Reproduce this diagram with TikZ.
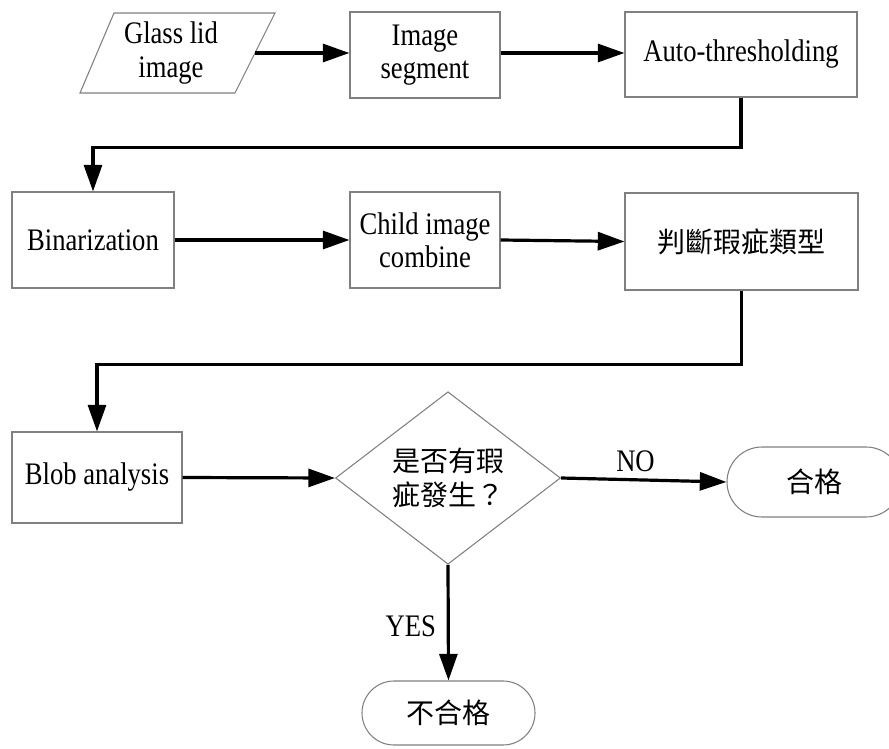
\documentclass[tikz,border=0pt]{standalone}
\usepackage{fontspec}
\setmainfont{Liberation Serif}[FakeStretch=0.85]
\newfontfamily\cjk{Noto Sans CJK TC}
\usetikzlibrary{arrows.meta,shapes.geometric,calc}
\begin{document}
\begin{tikzpicture}[x=0.75pt,y=-0.75pt,
  latin/.style={font=\fontsize{23.5}{25}\selectfont},
  box/.style={draw=black!50,line width=0.8pt,align=center,inner sep=0pt,latin},
  cjkbox/.style={box,font=\cjk\fontsize{21}{26}\selectfont},
  term/.style={cjkbox},
  flow/.style={line width=2.4pt,-{Triangle[length=20pt,width=13.5pt]}},
  lbl/.style={latin,inner sep=0pt}]
\useasboundingbox (0,0) rectangle (889,749);

% input parallelogram
\node[align=center,latin] (in) at (171,53) {Glass lid\\image};
\draw[draw=black!50,line width=0.8pt]
  ($(in)+(-57,-40)$) -- ($(in)+(104,-40)$) -- ($(in)+(64,40)$) -- ($(in)+(-91,40)$) -- cycle;
\coordinate (inR) at ($(in)+(84,0)$);

% processing boxes
\node[box,minimum width=112.5pt,minimum height=64.5pt] (seg) at (425,55) {Image\\segment};
\node[box,minimum width=174pt,minimum height=63.75pt] (auto) at (741,54.5) {Auto-thresholding};
\node[box,minimum width=121.5pt,minimum height=72pt] (bin) at (93,240) {Binarization};
\node[box,minimum width=112.5pt,minimum height=72pt] (child) at (425,240) {Child image\\combine};
\node[cjkbox,minimum width=174.75pt,minimum height=72.75pt] (type) at (741.5,241.5) {判斷瑕疵類型};
\node[box,minimum width=127.5pt,minimum height=68.25pt] (blob) at (97,477.5) {Blob analysis};

% decision
\node[draw=black!50,line width=0.8pt,diamond,inner sep=0pt,
  minimum width=168.75pt,minimum height=116.25pt,align=center,
  font=\cjk\fontsize{21}{26}\selectfont] (dec) at (448,478) {是否有瑕\\疵發生？};

% terminals (the right one runs past the page edge)
\node[term,minimum width=130.5pt,minimum height=52.5pt,rounded corners=26.25pt] (ok) at (814,482) {合格};
\node[term,minimum width=129.75pt,minimum height=48pt,rounded corners=24pt] (ng) at (448.5,713) {不合格};

% connectors
\draw[flow] (inR) -- (seg.west |- inR);
\draw[flow] (seg.east |- inR) -- (auto.west |- inR);
\draw[flow] (auto.south) -- ++(0,50) -| (bin.north);
\draw[flow] (bin.east) -- (child.west);
\draw[flow] (child.east) -- (type.west);
\draw[flow] (type.south) -- ++(0,74) -| (blob.north);
\draw[flow] (blob.east) -- (dec.west);
\draw[flow] (dec.east) -- node[lbl,above=5pt,pos=0.45] {NO} (ok.west);
\draw[flow] (dec.south) -- node[lbl,left=8pt,pos=0.53] {YES} (ng.north);
\end{tikzpicture}
\end{document}
